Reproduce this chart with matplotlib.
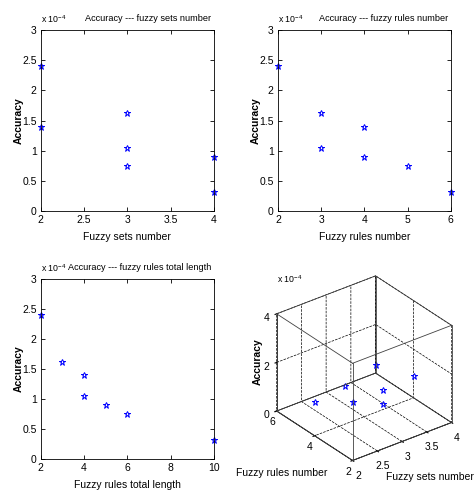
import numpy as np
import matplotlib
matplotlib.use('Agg')
import matplotlib.pyplot as plt
from matplotlib.ticker import FuncFormatter

plt.rcParams['font.family'] = ['Liberation Sans', 'DejaVu Sans']
plt.rcParams['mathtext.fontset'] = 'custom'
plt.rcParams['mathtext.rm'] = 'Liberation Sans'

# Dados (7 configurações)
sets_num = np.array([2, 2, 3, 3, 3, 4, 4])
rules_num = np.array([2, 4, 3, 3, 5, 4, 6])
rules_len = np.array([2, 4, 3, 4, 6, 5, 10])
accuracy = np.array([2.40, 1.40, 1.62, 1.05, 0.75, 0.90, 0.32]) * 1e-4

x_ticks_sets = [2, 2.5, 3, 3.5, 4]
x_ticks_rules = [2, 3, 4, 5, 6]
x_ticks_len = [2, 4, 6, 8, 10]
y_ticks = [0, 0.5e-4, 1e-4, 1.5e-4, 2e-4, 2.5e-4, 3e-4]

blue = '#0000ff'
fs = 7.5
fmt = FuncFormatter(lambda v, p: '%g' % round(v * 1e4, 6))

fig = plt.figure(figsize=(4.75, 4.99), dpi=100)

def plot2d(pos, xdata, xticks, xlabel, title):
    ax = fig.add_axes(pos)
    ax.plot(xdata, accuracy, linestyle='none', marker='*', markersize=5,
            markerfacecolor='none', markeredgecolor=blue, markeredgewidth=0.7,
            clip_on=False)
    ax.set_xlim(xticks[0], xticks[-1])
    ax.set_ylim(0, 3e-4)
    ax.set_xticks(xticks)
    ax.set_xticklabels(['%g' % t for t in xticks])
    ax.set_yticks(y_ticks)
    ax.yaxis.set_major_formatter(fmt)
    ax.tick_params(direction='in', top=True, right=True, labelsize=fs, length=3, width=0.6, pad=3)
    for s in ax.spines.values():
        s.set_linewidth(0.6)
    ax.set_xlabel(xlabel, fontsize=fs, labelpad=5)
    ax.set_ylabel('Accuracy', fontsize=fs, fontweight='bold', labelpad=-1)
    ax.text(0.0, 1.03, r'x 10$^{-4}$', transform=ax.transAxes, fontsize=6.3, ha='left', va='bottom')
    ax.text(0.985, 1.04, title, transform=ax.transAxes, fontsize=6.6, ha='right', va='bottom')
    return ax

plot2d([0.086, 0.577, 0.364, 0.363], sets_num, x_ticks_sets,
       'Fuzzy sets number', 'Accuracy --- fuzzy sets number')
plot2d([0.585, 0.577, 0.364, 0.363], rules_num, x_ticks_rules,
       'Fuzzy rules number', 'Accuracy --- fuzzy rules number')
plot2d([0.086, 0.080, 0.364, 0.361], rules_len, x_ticks_len,
       'Fuzzy rules total length', 'Accuracy --- fuzzy rules total length')

# Gráfico 3D
ax3 = fig.add_axes([0.52, 0.006, 0.48, 0.50], projection='3d')
ax3.set_proj_type('ortho')
ax3.view_init(elev=30, azim=-127.5)
ax3.set_box_aspect((1, 1, 0.9), zoom=0.89)
ax3.plot(sets_num, rules_num, accuracy, linestyle='none', marker='*', markersize=5,
         markerfacecolor='none', markeredgecolor=blue, markeredgewidth=0.7)
ax3.set_xlim(2, 4)
ax3.set_ylim(2, 6)
ax3.set_zlim(0, 4e-4)
ax3.set_xticks(x_ticks_sets)
ax3.set_xticklabels(['%g' % t for t in x_ticks_sets])
ax3.set_yticks([2, 4, 6])
ax3.set_yticklabels(['2', '4', '6'])
ax3.set_zticks([0, 2e-4, 4e-4])
ax3.set_zticklabels(['0', '2', '4'])
ax3.tick_params(axis='x', labelsize=fs, pad=-2)
ax3.tick_params(axis='y', labelsize=fs, pad=-4)
ax3.tick_params(axis='z', labelsize=fs, pad=-3)
for axis in (ax3.xaxis, ax3.yaxis, ax3.zaxis):
    axis.set_pane_color((1, 1, 1, 0))
    axis._axinfo['grid'].update(color='k', linestyle='--', linewidth=0.5)
    axis.line.set_linewidth(0.6)

# caixa completa
xl, yl, zl = ax3.get_xlim(), ax3.get_ylim(), ax3.get_zlim()
for a in xl:
    for b in yl:
        ax3.plot([a, a], [b, b], zl, color='0.25', linewidth=0.6)
    for c in zl:
        ax3.plot([a, a], yl, [c, c], color='0.25', linewidth=0.6)
for b in yl:
    for c in zl:
        ax3.plot(xl, [b, b], [c, c], color='0.25', linewidth=0.6)
ax3.set_xlim(xl)
ax3.set_ylim(yl)
ax3.set_zlim(zl)

# rótulos horizontais como no original
fig.text(0.497, 0.052, 'Fuzzy rules number', fontsize=fs, ha='left', va='center')
fig.text(0.998, 0.044, 'Fuzzy sets number', fontsize=fs, ha='right', va='center')
fig.text(0.543, 0.275, 'Accuracy', fontsize=fs, fontweight='bold', rotation=90, ha='center', va='center')
fig.text(0.583, 0.428, r'x 10$^{-4}$', fontsize=6.3, ha='left', va='bottom')

fig.savefig('out.png', dpi=100)
